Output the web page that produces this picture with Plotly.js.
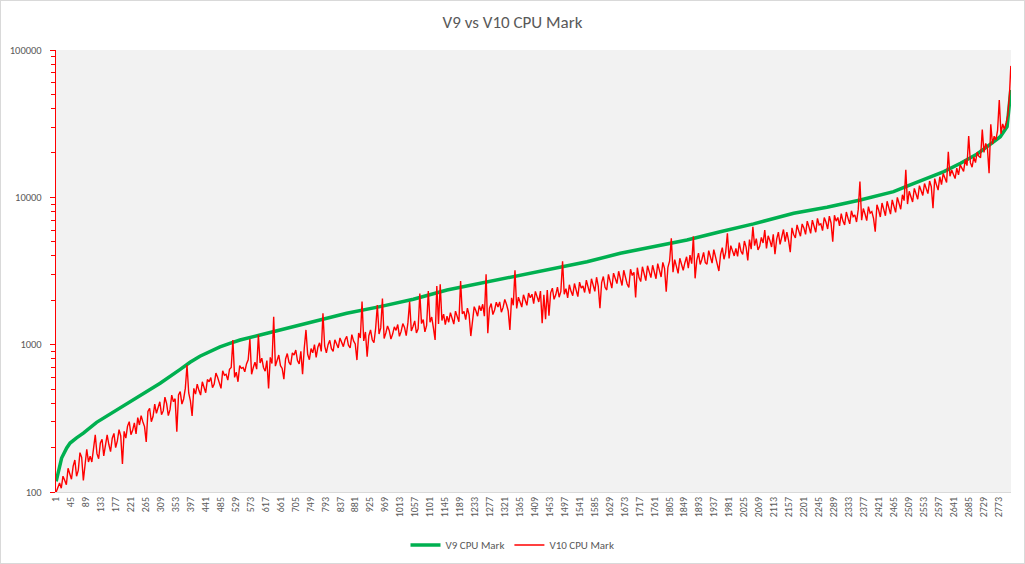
<!DOCTYPE html>
<html><head><meta charset="utf-8">
<script src="https://cdn.plot.ly/plotly-3.0.1.min.js"></script>
<style>html,body{margin:0;padding:0;background:#fff}#chart{width:1025px;height:564px;box-sizing:border-box;border:1px solid #d9d9d9}</style>
</head><body><div id="chart"></div><script>
const N = 2810;
const tickLabels = [];
for (let t = 1; t <= 2773; t += 44) tickLabels.push(t);

const v9Idx = [1,17,32,42,61,81,120,179,248,307,366,395,424,454,483,512,542,601,660,719,778,856,954,1052,1151,1249,1347,1464,1563,1661,1759,1857,1955,2053,2171,2269,2367,2465,2514,2564,2613,2662,2711,2760,2779,2799,2804,2807,2810];
const v9Mark = [118,170,199,215,233,251,297,360,456,547,680,760,835,905,965,1020,1076,1164,1259,1375,1480,1633,1812,2032,2349,2610,2892,3244,3656,4169,4624,5131,5845,6600,7800,8557,9593,10920,12130,13460,14940,17020,19680,23860,25800,30200,37200,45800,53600];

const v10Mark = [
100,108,115,106,128,120,112,145,130,122,
150,165,128,140,185,172,120,150,195,160,
175,160,198,244,182,168,215,228,176,205,
244,210,188,232,250,200,222,265,240,155,
258,232,280,300,245,262,295,248,320,285,
330,300,278,219,352,370,300,325,395,342,
372,410,335,355,440,398,330,362,455,410,
430,257,455,480,395,428,505,728,470,415,
328,505,462,540,490,455,560,520,472,580,
560,598,510,540,642,600,555,505,665,620,
630,575,680,700,1077,600,650,560,720,690,
700,655,740,790,1090,630,700,760,682,1165,
750,810,700,660,780,505,820,745,1546,715,
780,850,720,690,583,800,870,760,730,880,
850,920,780,740,900,630,950,1259,860,790,
940,880,1000,820,960,1030,900,1633,980,880,
1000,1070,940,900,1080,1020,950,1110,1040,970,
1080,1140,990,950,1170,1060,1010,786,1200,1110,
1960,1060,1220,830,1150,1260,1080,1030,1290,1860,
1180,1300,2060,1100,1200,1340,1250,1090,1180,1320,
1250,1370,1140,1230,1390,1310,1150,1410,1960,1240,
1330,1450,1200,1280,2220,1390,1480,1220,1350,2310,
1420,1540,1300,1077,2500,1380,2570,1460,1610,1370,
1560,1420,1650,1500,1380,1690,1560,1430,2700,1620,
1680,1480,1770,1600,1144,1520,1810,1700,1560,1840,
1700,1880,1560,3000,1197,1770,1900,1600,1720,1940,
1800,1950,1660,1790,2030,1880,1700,1260,2080,1850,
3200,1760,2100,1950,1800,2180,2020,1850,2240,2080,
2200,1900,2300,2080,1950,2310,1400,2180,1490,2350,
1570,2250,2420,2030,2180,2460,2100,2300,3680,2200,
2400,2080,2550,2300,2150,2600,2380,2120,2660,2420,
2500,2260,2740,2400,2220,2800,2560,2300,2870,2500,
1770,2640,2900,2450,2350,3000,2700,2420,3060,2800,
2600,3150,2750,2520,3200,2900,2580,2450,3250,2950,
3100,2090,3330,2850,2680,3380,3020,2720,3430,3100,
2850,3460,3150,2800,3550,3200,2880,3620,3300,2290,
3350,3700,5270,3100,3780,3400,3050,3860,3550,3200,
3600,3950,3300,4050,3550,5430,2820,3750,4180,3500,
3800,4230,3600,3520,4350,3900,3580,4420,4000,3650,
3160,4100,4550,3800,4250,5700,3850,4700,4300,4000,
4500,3970,4930,4300,4100,5050,4600,3730,5160,4450,
6300,4700,5250,4400,4650,5350,4900,6000,4500,5480,
5100,4600,5600,4110,5200,5800,4800,5400,6050,5000,
5800,5100,4250,6200,5600,5300,6500,5900,5450,6600,
6200,5600,6900,6300,5700,7000,6400,5800,7200,6500,
6600,5950,7300,6800,6100,7450,6700,5000,7550,6900,
7300,6400,7750,6900,6500,7950,7200,6600,8100,7400,
7600,6800,8250,12800,7000,8400,7700,6950,8650,7800,
8000,7200,5840,8900,8200,7350,9150,8300,7500,9400,
8600,7700,9600,8800,7900,10000,9200,8300,10400,9500,
15400,9000,11000,10200,9300,11500,10500,9700,12000,11000,
10300,12400,11500,10600,12900,11800,8430,13400,12200,11200,
13800,12200,14500,13400,12600,20400,13900,15300,14200,13400,
15800,14200,16600,15600,15000,18000,16400,26100,17200,16000,
18800,17200,20300,19000,18600,28800,20200,23200,21800,14600,
31300,23000,26000,24500,28500,45800,27000,31500,29000,32000,
36000,50000,78000
];
const v10Idx = v10Mark.map((v, k) => (k < v10Mark.length - 1 ? 1 + 5 * k : N));

const FONT = 'Carlito, Calibri, Lato, sans-serif';
const traces = [
  {x: v9Idx, y: v9Mark, type: 'scatter', mode: 'lines', name: 'V9 CPU Mark',
   line: {color: '#00B050', width: 3.5}, hoverinfo: 'skip'},
  {x: v10Idx, y: v10Mark, type: 'scatter', mode: 'lines', name: 'V10 CPU Mark',
   line: {color: '#FF0000', width: 1.4}, hoverinfo: 'skip'}
];
const layout = {
  width: 1023, height: 562,
  margin: {l: 55, r: 13, t: 49, b: 71, pad: 0},
  paper_bgcolor: '#ffffff', plot_bgcolor: '#F2F2F2',
  font: {family: FONT, color: '#595959'},
  title: {text: 'V9 vs V10 CPU Mark', font: {family: FONT, size: 17, color: '#595959'},
          x: 0.5, xanchor: 'center', xref: 'container', y: 0.962, yanchor: 'middle', yref: 'container'},
  showlegend: true,
  legend: {orientation: 'h', x: 0.5, xanchor: 'center', xref: 'container', y: 0.032, yanchor: 'middle', yref: 'container',
           font: {family: FONT, size: 11, color: '#595959'}, bgcolor: 'rgba(0,0,0,0)'},
  xaxis: {range: [0.5, N + 0.5], tickmode: 'array', tickvals: tickLabels, ticktext: tickLabels.map(String),
          tickangle: -90, tickfont: {family: FONT, size: 10, color: '#595959'}, automargin: false,
          showline: true, linecolor: '#d9d9d9', linewidth: 1, ticks: '', showgrid: false, zeroline: false, fixedrange: true},
  yaxis: {type: 'log', range: [2, 5], tickmode: 'array', tickvals: [100, 1000, 10000, 100000],
          ticktext: ['100', '1000', '10000', '100000'], tickfont: {family: FONT, size: 10.5, color: '#595959'},
          ticklabelstandoff: 6, automargin: false,
          showline: true, linecolor: '#FF0000', linewidth: 1.2, ticks: 'outside', ticklen: 5, tickcolor: '#FF0000', tickwidth: 1,
          minor: {ticks: 'outside', ticklen: 4, tickcolor: '#FF0000', tickwidth: 1, dtick: 'D1', showgrid: false},
          showgrid: false, zeroline: false, fixedrange: true}
};
Plotly.newPlot('chart', traces, layout, {staticPlot: true, displayModeBar: false});
</script></body></html>
